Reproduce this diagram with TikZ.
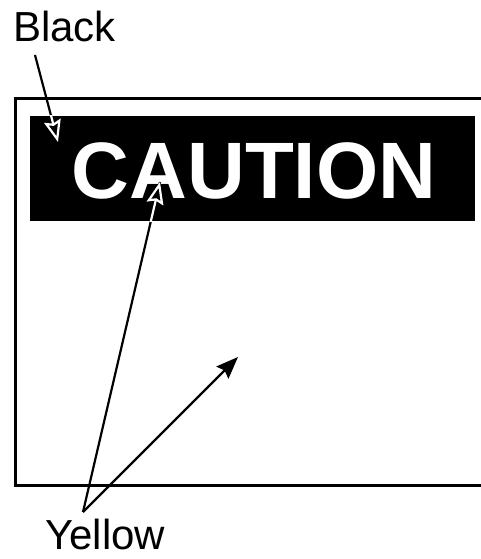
\documentclass[tikz,border=0pt]{standalone}
\usepackage{fontspec}
\setmainfont{Liberation Sans}
\usetikzlibrary{arrows.meta}

\tikzset{
  colourname/.style={anchor=base west, inner sep=0pt, text depth=0pt, font=\fontsize{42}{50}\selectfont},
  leader/.style={line width=2.2pt},
}

\begin{document}
\begin{tikzpicture}[x=1pt, y=-1pt, >={Stealth[length=22pt, width=17pt, inset=3pt]}]
  \useasboundingbox (0,0) rectangle (481,559);

  % sign outline, cut off at the right
  \coordinate (TR) at (481,98.5);
  \coordinate (TL) at (15.5,98.5);
  \coordinate (BL) at (15.5,485.5);
  \coordinate (BR) at (481,485.5);
  \draw[line width=3.5pt, line join=miter] (TR) -- (TL) -- (BL) -- (BR);

  % header band
  \coordinate (HT) at (30,116);
  \coordinate (HB) at (475,221);
  \fill (HT) rectangle (HB);
  \node[anchor=base, inner sep=0pt, text=white,
        font=\fontsize{80}{90}\selectfont\bfseries] (caution) at (254,198) {CAUTION};

  \node[colourname] (black) at (13,42) {Black};
  \node[colourname] (yellow) at (45,549.5) {Yellow};

  \coordinate (B0) at (35,55);
  \coordinate (B1) at (58,142);
  \coordinate (Y0) at (83,512);
  \coordinate (Y1) at (160,182);
  \coordinate (Y2) at (238,357);

  \draw[leader] (B0) -- (B1);
  \draw[leader] (Y0) -- (Y1);
  \draw[leader, ->] (Y0) -- (Y2);

  % the parts inside the band come out white
  \begin{scope}
    \clip (HT) rectangle (HB);
    \draw[leader, white, -{Stealth[open, length=22pt, width=17pt, inset=3pt]}] (B0) -- (B1);
    \draw[leader, white, -{Stealth[open, length=22pt, width=17pt, inset=3pt]}] (Y0) -- (Y1);
  \end{scope}
\end{tikzpicture}
\end{document}
